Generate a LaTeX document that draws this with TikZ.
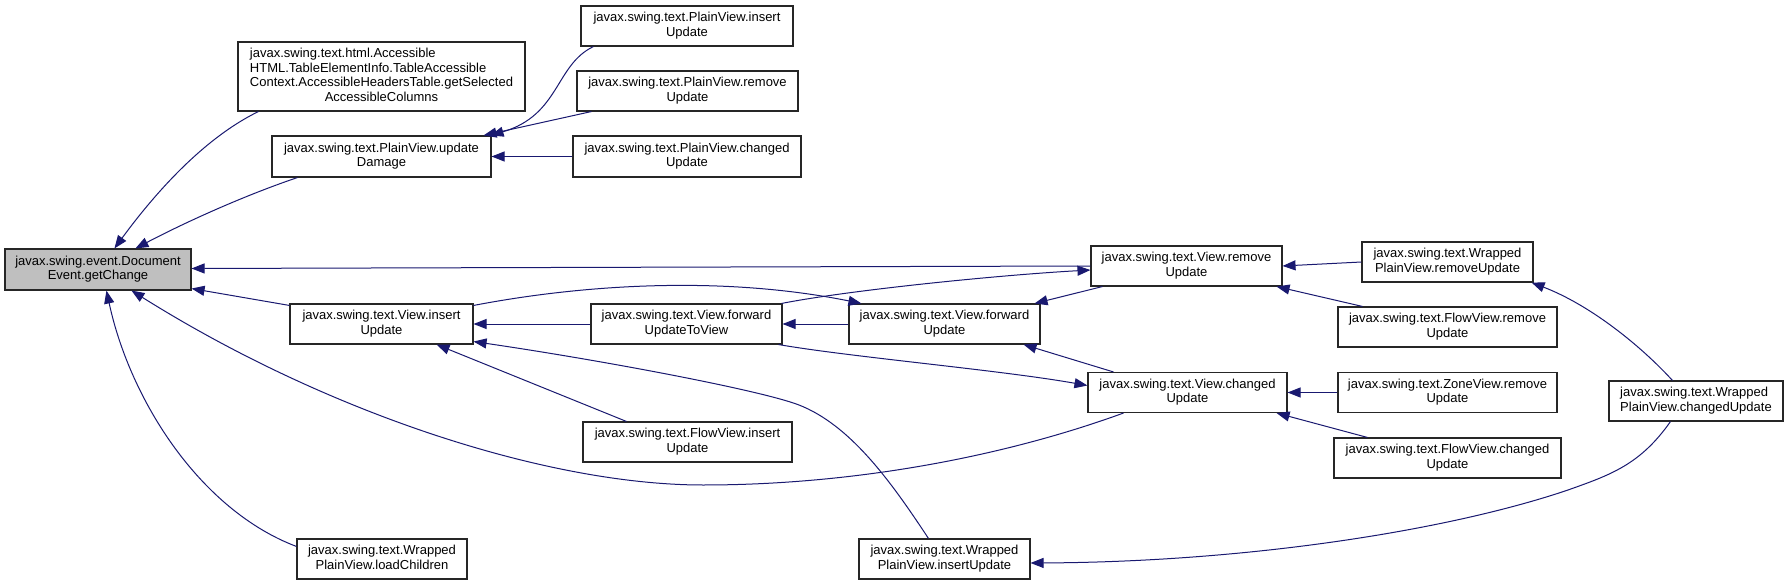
\documentclass[tikz,border=0pt]{standalone}
\usepackage{fontspec}
\setmainfont{Liberation Sans}
\usetikzlibrary{arrows.meta}
\definecolor{edgeblue}{RGB}{25,25,112}
\definecolor{hlgrey}{RGB}{191,191,191}
\newcommand\twol[2]{\begin{tabular}{@{}l@{}}#1\\\multicolumn{1}{@{}c@{}}{#2}\end{tabular}}
\newcommand\fourl[4]{\begin{tabular}{@{}l@{}}#1\\#2\\#3\\\multicolumn{1}{@{}c@{}}{#4}\end{tabular}}
\begin{document}
\begin{tikzpicture}[x=1pt,y=-1pt,
  box/.style={draw=black!85, line width=1.1pt, fill=white, inner sep=0pt, font=\fontsize{13}{14.7}\selectfont},
  edge/.style={draw=edgeblue, line width=1pt, -{Triangle[length=13pt,width=10pt]}}]
\fill[white] (0,0) rectangle (1788,585);
\useasboundingbox (0,0) rectangle (1788,585);
% nodes
\node[box,fill=hlgrey,minimum width=186,minimum height=41] (gc) at (98,269.5) {\twol{javax.swing.event.Document}{Event.getChange}};
\node[box,minimum width=287,minimum height=69] (acc) at (381.5,76.5) {\fourl{javax.swing.text.html.Accessible}{HTML.TableElementInfo.TableAccessible}{Context.AccessibleHeadersTable.getSelected}{AccessibleColumns}};
\node[box,minimum width=219,minimum height=41] (ud) at (381.5,156.5) {\twol{javax.swing.text.PlainView.update}{Damage}};
\node[box,minimum width=212,minimum height=40] (pvi) at (687,26) {\twol{javax.swing.text.PlainView.insert}{Update}};
\node[box,minimum width=221,minimum height=40] (pvr) at (687.5,91) {\twol{javax.swing.text.PlainView.remove}{Update}};
\node[box,minimum width=228,minimum height=41] (pvc) at (687,156.5) {\twol{javax.swing.text.PlainView.changed}{Update}};
\node[box,minimum width=191,minimum height=40] (vr) at (1186.5,266) {\twol{javax.swing.text.View.remove}{Update}};
\node[box,minimum width=171,minimum height=40] (wpvr) at (1447.5,262) {\twol{javax.swing.text.Wrapped}{PlainView.removeUpdate}};
\node[box,minimum width=183,minimum height=40] (vi) at (381.5,324) {\twol{javax.swing.text.View.insert}{Update}};
\node[box,minimum width=191,minimum height=40] (fuv) at (686.5,324) {\twol{javax.swing.text.View.forward}{UpdateToView}};
\node[box,minimum width=191,minimum height=40] (fu) at (944.5,324) {\twol{javax.swing.text.View.forward}{Update}};
\node[box,minimum width=219,minimum height=40] (fvr) at (1447.5,327) {\twol{javax.swing.text.FlowView.remove}{Update}};
\node[box,minimum width=199,minimum height=40] (vc) at (1187.5,392.5) {\twol{javax.swing.text.View.changed}{Update}};
\node[box,minimum width=219,minimum height=40] (zvr) at (1447.5,392.5) {\twol{javax.swing.text.ZoneView.remove}{Update}};
\node[box,minimum width=174,minimum height=40] (wpvc) at (1696,401) {\twol{javax.swing.text.Wrapped}{PlainView.changedUpdate}};
\node[box,minimum width=227,minimum height=40] (fvc) at (1447.5,458) {\twol{javax.swing.text.FlowView.changed}{Update}};
\node[box,minimum width=209,minimum height=40] (fvi) at (687.5,442) {\twol{javax.swing.text.FlowView.insert}{Update}};
\node[box,minimum width=170,minimum height=40] (lc) at (382,559) {\twol{javax.swing.text.Wrapped}{PlainView.loadChildren}};
\node[box,minimum width=171,minimum height=40] (wpvi) at (944.5,559) {\twol{javax.swing.text.Wrapped}{PlainView.insertUpdate}};
% edges
\draw[edge] ([xshift=21pt]acc.south west) .. controls (200,140) and (150,200) .. ([xshift=110pt]gc.north west);
\draw[edge] ([xshift=26pt]ud.south west) .. controls (240,197) and (180,225) .. ([xshift=131pt]gc.north west);
\draw[edge] (vr.west) -- ([yshift=1pt]gc.east);
\draw[edge] ([yshift=-2pt]vi.north west) -- ([yshift=2pt]gc.south east);
\draw[edge] ([xshift=36pt]vc.south west) .. controls (1000,458) and (850,485) .. (703,485) .. controls (550,485) and (330,415) .. ([xshift=127pt]gc.south west);
\draw[edge] ([yshift=-8pt]lc.north west) .. controls (200,510) and (130,400) .. ([xshift=102pt]gc.south west);
\draw[edge] ([xshift=13pt]pvi.south west) .. controls (555,65) and (560,115) .. ([xshift=-1pt]ud.north east);
\draw[edge] ([xshift=15pt]pvr.south west) -- ([xshift=-8pt]ud.north east);
\draw[edge] (pvc.west) -- (ud.east);
\draw[edge] (wpvr.west) -- (vr.east);
\draw[edge] ([xshift=25pt]fvr.north west) -- ([xshift=-6pt]vr.south east);
\draw[edge] ([xshift=-1pt]fuv.north east) .. controls (850,290) and (1000,275) .. ([yshift=-4pt]vr.west);
\draw[edge] ([yshift=-2pt]vi.north east) .. controls (580,285) and (720,275) .. ([xshift=13pt]fu.north west);
\draw[edge] (fuv.west) -- (vi.east);
\draw[edge] (fu.west) -- (fuv.east);
\draw[edge] ([xshift=12pt]vr.south west) -- ([xshift=-6pt]fu.north east);
\draw[edge] ([xshift=26pt]vc.north west) -- ([xshift=-17pt]fu.south east);
\draw[edge] ([xshift=-4pt]fuv.south east) .. controls (850,357) and (1000,370) .. ([yshift=7pt]vc.west);
\draw[edge] ([xshift=44pt]fvi.north west) -- ([xshift=-37pt]vi.south east);
\draw[edge] ([xshift=70pt]wpvi.north west) .. controls (890,480) and (850,425) .. (799,405) .. controls (760,390) and (600,360) .. ([yshift=3pt]vi.south east);
\draw[edge] ([xshift=64pt]wpvc.north west) .. controls (1640,345) and (1590,305) .. ([xshift=-2pt]wpvr.south east);
\draw[edge] ([xshift=62pt]wpvc.south west) .. controls (1640,465) and (1610,475) .. (1568,490) .. controls (1450,530) and (1250,562) .. ([yshift=-4pt]wpvi.east);
\draw[edge] (zvr.west) -- (vc.east);
\draw[edge] ([xshift=34pt]fvc.north west) -- ([xshift=-11pt]vc.south east);
\end{tikzpicture}
\end{document}
